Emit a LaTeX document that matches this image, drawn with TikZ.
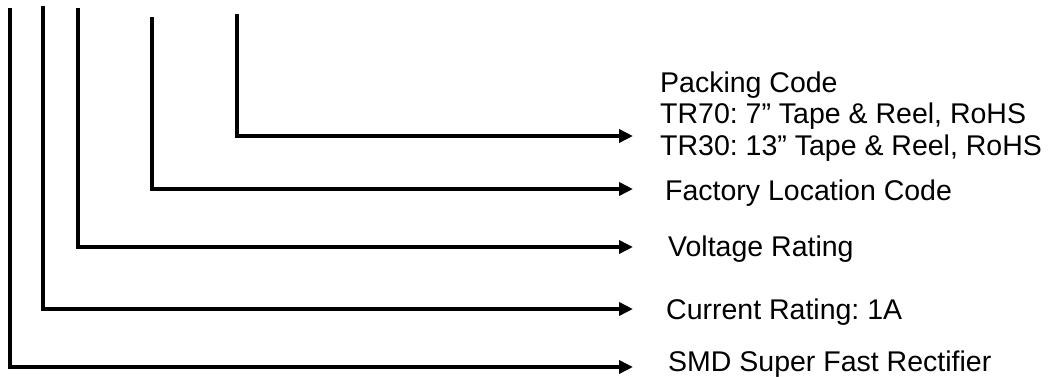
\documentclass[tikz,border=0pt]{standalone}
\usepackage{fontspec}
\setmainfont{Liberation Sans}
\frenchspacing
\usetikzlibrary{arrows.meta}
\begin{document}
\begin{tikzpicture}[x=1pt,y=-1pt,
  lead/.style={line width=3.5pt,-{Triangle[length=14pt,width=13pt]}},
  label/.style={inner sep=0pt,anchor=base west,font=\fontsize{28.5}{31.5}\selectfont,align=left}]
\useasboundingbox (0,0) rectangle (1052,376);
% tops of the leads
\coordinate (t1) at (10,8);
\coordinate (t2) at (43,6);
\coordinate (t3) at (78,8);
\coordinate (t4) at (152,17);
\coordinate (t5) at (237,14);
% arrow ends
\coordinate (e1) at (633,367);
\coordinate (e2) at (633,309);
\coordinate (e3) at (633,247);
\coordinate (e4) at (633,189);
\coordinate (e5) at (633,136);
% labels
\node[label] (l1) at (668,371) {SMD Super Fast Rectifier};
\node[label] (l2) at (666,319) {Current Rating: 1A};
\node[label] (l3) at (668,256) {Voltage Rating};
\node[label] (l4) at (665,200) {Factory Location Code};
\node[label] (l5) at (660,155) {Packing Code\\TR70: 7” Tape \& Reel, RoHS\\TR30: 13” Tape \& Reel, RoHS};
% leads
\draw[lead] (t1) |- (e1);
\draw[lead] (t2) |- (e2);
\draw[lead] (t3) |- (e3);
\draw[lead] (t4) |- (e4);
\draw[lead] (t5) |- (e5);
\end{tikzpicture}
\end{document}
